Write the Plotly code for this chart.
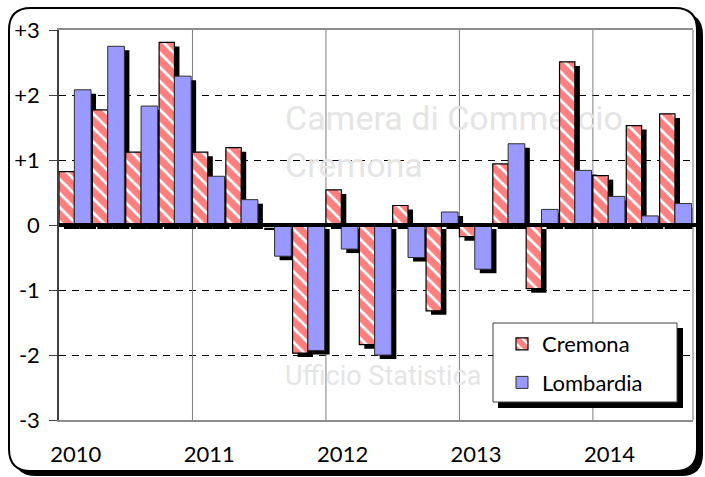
import plotly.graph_objects as go

quarters = ["2010 T1", "2010 T2", "2010 T3", "2010 T4",
            "2011 T1", "2011 T2", "2011 T3", "2011 T4",
            "2012 T1", "2012 T2", "2012 T3", "2012 T4",
            "2013 T1", "2013 T2", "2013 T3", "2013 T4",
            "2014 T1", "2014 T2", "2014 T3"]
cremona = [0.82, 1.77, 1.12, 2.81, 1.12, 1.19, 0.02, -1.97, 0.54, -1.84,
           0.30, -1.32, -0.18, 0.94, -0.98, 2.51, 0.76, 1.53, 1.71]
lombardia = [2.08, 2.75, 1.83, 2.29, 0.75, 0.39, -0.48, -1.93, -0.37, -2.00,
             -0.50, 0.20, -0.68, 1.25, 0.24, 0.84, 0.44, 0.14, 0.33]
year_labels = ["2010", "2011", "2012", "2013", "2014"]
y_ticks = [3, 2, 1, 0, -1, -2, -3]
y_ticktext = ["+3", "+2", "+1", "0", "-1", "-2", "-3"]
watermark = ["Camera di Commercio", "Cremona", "Ufficio Statistica"]

W, H = 705, 477
L, R, T, B = 59, 12, 30, 57
PW, PH = W - L - R, H - T - B

xs = list(range(len(quarters)))
XR = [-0.5, len(quarters) - 0.5]
YR = [-3, 3]
FONT = "Lato, 'Open Sans', sans-serif"

def px(xp):
    return (xp - L) / PW

def py(yp):
    return (H - B - yp) / PH

def dx(xp):  # pixel -> data x
    return XR[0] + (xp - L) / PW * (XR[1] - XR[0])

def dy(yp):
    return YR[1] - (yp - T) / PH * (YR[1] - YR[0])

SHX = 0.15
SHY = 0.062
RW = 0.46
BW = 0.5

fig = go.Figure()

# watermark (background subplot, drawn beneath the bars)
fig.add_trace(go.Scatter(
    x=[dx(285), dx(285), dx(285)], y=[dy(121), dy(168), dy(378)],
    text=watermark, mode="text", textposition="middle right",
    textfont=dict(family="Roboto, sans-serif", size=[34, 34, 27], color="#E5E5E5"),
    showlegend=False, hoverinfo="skip", xaxis="x", yaxis="y"))

# shadows
fig.add_trace(go.Bar(x=xs, y=cremona, base=-SHY, offset=-0.5 + SHX, width=RW,
                     marker=dict(color="black", line=dict(width=0)),
                     showlegend=False, hoverinfo="skip", xaxis="x2", yaxis="y2"))
fig.add_trace(go.Bar(x=xs, y=lombardia, base=-SHY, offset=-0.04 + SHX, width=BW,
                     marker=dict(color="black", line=dict(width=0)),
                     showlegend=False, hoverinfo="skip", xaxis="x2", yaxis="y2"))
# main bars
fig.add_trace(go.Bar(x=xs, y=cremona, name="Cremona", offset=-0.5, width=RW,
                     marker=dict(color="white",
                                 pattern=dict(shape="\\", fgcolor="#FF0000", bgcolor="white",
                                              size=10, solidity=0.72, fillmode="overlay"),
                                 line=dict(color="black", width=1.2)),
                     legendgroup="a", xaxis="x2", yaxis="y2"))
fig.add_trace(go.Bar(x=xs, y=lombardia, name="Lombardia", offset=-0.04, width=BW,
                     marker=dict(color="#9999FF", line=dict(color="#303030", width=1)),
                     legendgroup="b", xaxis="x2", yaxis="y2"))

shapes = []
def rrect(x0, y0, x1, y1, r):
    return (f"M{px(x0 + r)},{py(y0)} L{px(x1 - r)},{py(y0)} "
            f"Q{px(x1)},{py(y0)} {px(x1)},{py(y0 + r)} "
            f"L{px(x1)},{py(y1 - r)} Q{px(x1)},{py(y1)} {px(x1 - r)},{py(y1)} "
            f"L{px(x0 + r)},{py(y1)} Q{px(x0)},{py(y1)} {px(x0)},{py(y1 - r)} "
            f"L{px(x0)},{py(y0 + r)} Q{px(x0)},{py(y0)} {px(x0 + r)},{py(y0)} Z")

# outer frame shadow + frame
shapes.append(dict(type="path", path=rrect(14, 13, 703, 476, 22), xref="paper", yref="paper",
                   fillcolor="black", line=dict(width=0), layer="below"))
shapes.append(dict(type="path", path=rrect(9, 8, 697, 471, 22), xref="paper", yref="paper",
                   fillcolor="white", line=dict(color="black", width=2), layer="below"))

# vertical year gridlines
for k in range(4, len(quarters), 4):
    shapes.append(dict(type="line", xref="x", yref="y", x0=k - 0.5, x1=k - 0.5, y0=-3, y1=3,
                       line=dict(color="#7F7F7F", width=1), layer="between"))
# right border
shapes.append(dict(type="line", xref="paper", yref="paper", x0=1, x1=1, y0=0, y1=1,
                   line=dict(color="#A0A0A0", width=1.5), layer="above"))
# zero line on top
shapes.append(dict(type="line", xref="paper", yref="y", x0=0, x1=px(696), y0=0, y1=0,
                   line=dict(color="black", width=4), layer="above"))
# legend box + shadow
shapes.append(dict(type="rect", xref="paper", yref="paper", x0=px(498), x1=px(683),
                   y0=py(408), y1=py(328), fillcolor="black", line=dict(width=0), layer="above"))
shapes.append(dict(type="rect", xref="paper", yref="paper", x0=px(493), x1=px(677),
                   y0=py(402), y1=py(323), fillcolor="white",
                   line=dict(color="#404040", width=1), layer="above"))

fig.update_layout(
    width=W, height=H,
    margin=dict(l=L, r=R, t=T, b=B, autoexpand=False),
    paper_bgcolor="white", plot_bgcolor="#F2F2F2",
    barmode="overlay",
    font=dict(family=FONT, size=22, color="black"),
    xaxis=dict(range=XR, tickmode="array", tickvals=xs[::4], ticktext=year_labels,
               showgrid=False, zeroline=False, showline=True, linecolor="#8C8C8C",
               linewidth=1.5, mirror=True, ticks="", ticklabelstandoff=14,
               automargin=False, tickfont=dict(family=FONT, size=22)),
    yaxis=dict(range=YR, tickmode="array", tickvals=y_ticks, ticktext=y_ticktext,
               showgrid=True, gridcolor="black", gridwidth=1, griddash="7px,6px",
               zeroline=False, showline=True, linecolor="#404040", linewidth=1.5,
               ticks="outside", ticklen=8, tickcolor="#404040", tickwidth=1,
               ticklabelstandoff=5, automargin=False, tickfont=dict(family=FONT, size=22)),
    xaxis2=dict(range=XR, overlaying="x", visible=False, automargin=False),
    yaxis2=dict(range=YR, overlaying="y", visible=False, automargin=False),
    shapes=shapes,
    showlegend=True,
    legend=dict(x=px(493), y=py(323), xanchor="left", yanchor="top",
                bgcolor="rgba(0,0,0,0)", borderwidth=0, indentation=9,
                traceorder="grouped", tracegroupgap=7,
                font=dict(family=FONT, size=22, color="black")),
)

fig.write_html("out.html", post_script="document.body.style.margin='0';",
               config={"displayModeBar": False})
